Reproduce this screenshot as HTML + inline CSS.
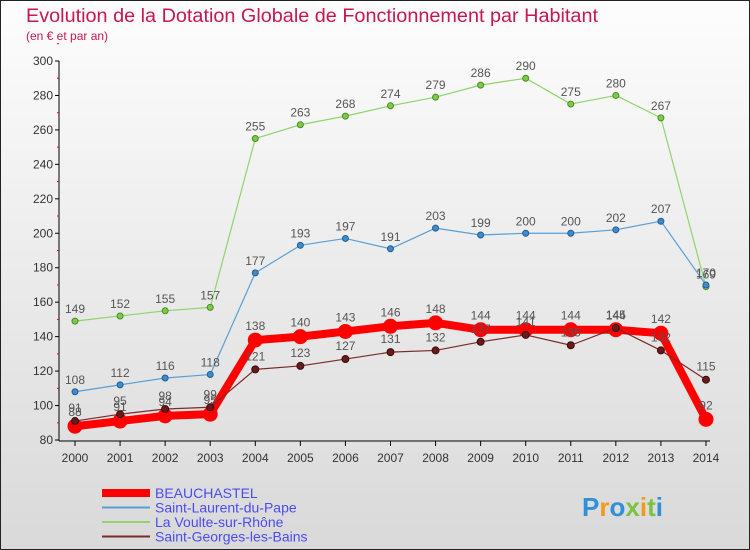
<!DOCTYPE html>
<html><head><meta charset="utf-8"><style>
body{margin:0;width:750px;height:550px;overflow:hidden;font-family:"Liberation Sans",sans-serif}
#c{position:absolute;left:0;top:0;width:748px;height:548px;border:1px solid #222;background:linear-gradient(#fdfdfd,#d9d9d9)}
</style></head><body>
<div id="c">
<svg id="s" width="750" height="550" style="position:absolute;left:-1px;top:-1px">
<text x="26" y="22" font-size="19" fill="#c8174f" textLength="572" lengthAdjust="spacingAndGlyphs">Evolution de la Dotation Globale de Fonctionnement par Habitant</text>
<text x="26" y="40" font-size="12" fill="#c8174f">(en € et par an)</text>
<g id="g"></g>
</svg>
</div>
<script>
const years=[2000,2001,2002,2003,2004,2005,2006,2007,2008,2009,2010,2011,2012,2013,2014];
const beauchastel=[88,91,94,95,138,140,143,146,148,144,144,144,144,142,92];
const stLaurent=[108,112,116,118,177,193,197,191,203,199,200,200,202,207,170];
const laVoulte=[149,152,155,157,255,263,268,274,279,286,290,275,280,267,169];
const stGeorges=[91,95,98,99,121,123,127,131,132,137,141,135,145,132,115];
const yTicks=[80,100,120,140,160,180,200,220,240,260,280,300];
const NS="http://www.w3.org/2000/svg",g=document.getElementById('g');
const X=i=>75+i*45.07, Y=v=>440-(v-80)*379/220;
function el(t,a,p){const e=document.createElementNS(NS,t);for(const k in a)e.setAttribute(k,a[k]);(p||g).appendChild(e);return e;}
let ax=el('line',{x1:59,y1:61,x2:59,y2:441,stroke:'#000'});

let bx=el('line',{x1:59,y1:441,x2:710,y2:441,stroke:'#000'});

yTicks.forEach(v=>{el('line',{x1:55,y1:Y(v),x2:59,y2:Y(v),stroke:'#000'});
 el('line',{x1:57,y1:Y(v+10),x2:59,y2:Y(v+10),stroke:'#f00'});
 const t=el('text',{x:53,y:Y(v)+4,'font-size':12,'text-anchor':'end',fill:'#333'});t.textContent=v;
 });
years.forEach((y,i)=>{el('line',{x1:X(i),y1:441,x2:X(i),y2:446,stroke:'#000'});
 const t=el('text',{x:X(i),y:462,'font-size':12,'text-anchor':'middle',fill:'#333'});t.textContent=y;
 });
function series(d,col,w,r,name,lab,dy){
 const p=el('polyline',{points:d.map((v,i)=>X(i)+','+Y(v)).join(' '),fill:'none',stroke:col,'stroke-width':w,'stroke-linejoin':'round'});
 
 d.forEach((v,i)=>{const c=el('circle',{cx:X(i),cy:Y(v),r:r,fill:lab.pt,stroke:lab.st,'stroke-width':1});
  
  const t=el('text',{x:X(i),y:Y(v)-dy,'font-size':12,'text-anchor':'middle',fill:'#555'});t.textContent=v;
  });
}
series(laVoulte,'#8fd46a',1.2,3,'la-voulte',{pt:'#7ccc44',st:'#4a8a2a'},8);
series(stLaurent,'#5a9fd4',1.2,3,'saint-laurent',{pt:'#3d8bd0',st:'#285c8c'},8);
series(beauchastel,'#f00',8,7,'beauchastel',{pt:'#f00',st:'#f00'},10);
series(stGeorges,'#7a2a2a',1.2,3.5,'saint-georges',{pt:'#6b1a1a',st:'#3a0a0a'},9);
const leg=[['BEAUCHASTEL','#f00',8],['Saint-Laurent-du-Pape','#5a9fd4',2],['La Voulte-sur-Rhône','#8fd46a',2],['Saint-Georges-les-Bains','#7a2a2a',2]];
leg.forEach((l,i)=>{const y=493+i*14.5;
 const ln=el('line',{x1:102,y1:y,x2:150,y2:y,stroke:l[1],'stroke-width':l[2]});
 
 const t=el('text',{x:155,y:y+5,'font-size':14,fill:'#4b4bf0'});t.textContent=l[0];
 });
const cols=['#2f8fd8','#f39a1e','#2f8fd8','#7cc243','#f39a1e','#7cc243','#2f8fd8'];
const lg=el('text',{x:582,y:516,'font-size':26,'font-weight':'bold'});

'Proxiti'.split('').forEach((ch,i)=>{const s=el('tspan',{fill:cols[i]},lg);s.textContent=ch;});
</script>
</body></html>
